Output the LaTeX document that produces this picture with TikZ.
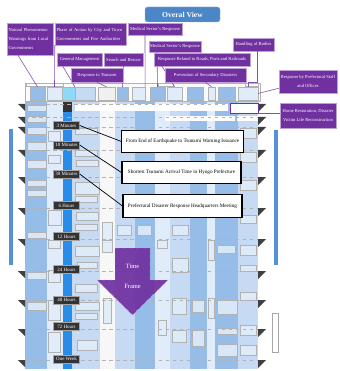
\documentclass[tikz,border=0pt]{standalone}
\usepackage{fontspec}
\setmainfont{Liberation Serif}
\usetikzlibrary{calc}
\definecolor{ovpurple}{RGB}{112,48,160}
\definecolor{ovblue}{RGB}{74,134,200}
\definecolor{barblue}{RGB}{40,140,232}
\definecolor{ovmid}{RGB}{150,188,232}
\definecolor{ovlight}{RGB}{198,219,243}
\definecolor{ovpale}{RGB}{224,236,249}
\definecolor{ovstrip}{RGB}{86,144,214}
\tikzset{
  ovlabel/.style={rectangle, fill=ovpurple, draw=ovpurple!45!white, line width=0.4pt,
                  text=white, inner sep=1pt, font=\fontsize{3.9}{7.6}\selectfont},
  ovtime/.style={rectangle, fill=black!80, draw=gray!70, line width=0.3pt, text=white,
                 inner sep=0.5pt, minimum width=0.78cm, minimum height=0.24cm,
                 font=\fontsize{4.2}{4.5}\selectfont},
  ovcall/.style={rectangle, fill=white, draw=black, line width=0.9pt,
                 minimum width=3.57cm, minimum height=0.68cm, font=\fontsize{4.4}{5}\selectfont},
  ovhead/.style={rectangle, draw=gray!60, line width=0.2pt, inner sep=0pt, minimum height=0.39cm},
  ovcell/.style={draw=gray!60, line width=0.2pt, fill=ovpale, fill opacity=0.9},
  ovlink/.style={ovpurple!85, line width=0.5pt},
  ovpoint/.style={black, line width=0.6pt},
}

\begin{document}
\begin{tikzpicture}[x=0.03cm, y=-0.03cm]
  \useasboundingbox (0,0) rectangle (339,371);
  % Quadro do cronograma
  \foreach \a/\b/\c in {25/47/ovmid, 47/63/ovpale, 63/72/barblue, 72/100/ovlight,
                        100/115/gray!6, 115/135/ovlight, 135/155/ovmid, 155/170/ovpale,
                        170/190/ovlight, 190/207/ovmid, 207/215/ovpale, 215/238/ovmid,
                        238/258/ovlight}
    \fill[\c] (\a,101) rectangle (\b,369);
  \fill[black!80] (63,100) rectangle (72,112);
  % Celulas de texto
  \fill[white] (75,104.5) rectangle (228,111.5);
  \fill[white] (165,116) rectangle (235,121);
  \fill[white] (237,116) rectangle (258,121);
  \foreach \x/\y/\w/\h in {27/105/19/6, 27/116/19/6, 27/127/19/7, 27/142/19/8, 27/160/19/8,
                           27/180/19/6, 27/190/19/6, 27/232/19/6, 27/272/19/7, 27/302/19/8,
                           48/131/12/10, 48/155/12/8, 48/210/13/15, 48/240/12/8, 48/270/12/12,
                           48/300/12/20, 48/332/12/20,
                           75/128/22/6, 75/150/22/6, 76/160/22/6, 75/182/24/12, 75/196/22/6,
                           76/212/22/8, 75/224/22/6, 75/246/24/10, 77/262/20/6, 75/284/22/8,
                           75/302/24/8, 75/313/22/6, 77/340/20/10,
                           102/222/10/20, 102/240/10/12, 103/298/8/25, 117/225/14/10,
                           137/225/14/10, 157/240/10/8, 158/320/8/15,
                           172/225/16/10, 172/258/16/14, 172/298/14/16, 172/330/14/12,
                           192/300/12/12, 192/330/12/16, 208/240/6/20, 208/298/6/20,
                           217/245/18/8, 217/300/20/14, 217/328/20/6, 217/344/20/12,
                           240/128/16/10, 240/152/16/10, 240/180/16/10, 240/215/16/8,
                           240/245/16/10, 240/265/16/6, 240/292/16/8, 240/325/16/10,
                           240/345/16/10}
    \draw[ovcell] (\x,\y) rectangle ++(\w,\h);
  % Linhas de tempo e marcadores
  \foreach \y in {104,117,127,150,177,208,239,271,300,329,360} {
    \draw[gray!60, dashed, line width=0.3pt] (18,\y) -- (262,\y);
    \fill[black!75] (18,\y) -- (25,\y) -- (25,\y+7) -- cycle;
    \fill[black!75] (258,\y) -- (266,\y) -- (258,\y+8) -- cycle;
  }
  % Faixas laterais
  \draw[white, fill=ovstrip, line width=0.4pt] (8,128) rectangle (13,265);
  \draw[white, fill=ovstrip, line width=0.4pt] (273,129) rectangle (278,265);
  \draw[gray!70, fill=white, line width=0.3pt] (272,313) rectangle (278,352);
  % Cabecalho
  \draw[gray!60, fill=gray!4, line width=0.3pt] (25,83) rectangle (260,101);
  \foreach \a/\b in {26/63, 158/173, 245/258}
    \draw[gray!60, fill=white, line width=0.2pt] (\a,83.5) rectangle (\b,86.5);
  \foreach \a/\b/\c [count=\i] in {30/45/ovmid, 47/62/ovpale, 62/75/cyan!45, 75/95/ovlight,
                                   98/115/gray!12, 117/128/ovmid, 132/145/ovpale,
                                   150/165/ovmid, 167/182/ovpale, 187/203/ovmid,
                                   208/215/ovpale, 218/235/ovmid, 238/258/ovpale}
    \node[ovhead, fill=\c, minimum width={(\b-\a)*0.03cm}] (h\i) at ({(\a+\b)/2},93.5) {};
  \node[draw=ovpurple, line width=0.6pt, fill=white, inner sep=0pt,
        minimum width=0.84cm, minimum height=0.3cm] (hl) at (244,108) {};
  % Marcos de tempo
  \node[ovtime] (t3) at (66.5,125.5) {3 Minutes};
  \node[ovtime] (t10) at (66.5,145) {10 Minutes};
  \node[ovtime] (t30) at (66.5,174) {30 Minutes};
  \node[ovtime] (t6h) at (66.5,205.5) {6 Hours};
  \node[ovtime] (t12h) at (66.5,236.5) {12 Hours};
  \node[ovtime] (t24h) at (66.5,269.5) {24 Hours};
  \node[ovtime] (t48h) at (66.5,300) {48 Hours};
  \node[ovtime] (t72h) at (66.5,326.5) {72 Hours};
  \node[ovtime] (tweek) at (66.5,359) {One Week};
  % Caixas de destaque
  \node[ovcall] (quake) at (182.5,141.5) {From End of Earthquake to Tsunami Warning Issuance};
  \node[ovcall] (arrival) at (181.5,172.5) {Shortest Tsunami Arrival Time in Hyogo Prefecture};
  \node[ovcall] (hq) at (182.5,206) {Prefectural Disaster Response Headquarters Meeting};
  \draw[ovpoint] (t3.east) -- (quake.west);
  \draw[ovpoint] (t10.east) -- (arrival.west);
  \draw[ovpoint] (t30.east) -- (hq.west);
  % Seta do periodo
  \draw[fill=ovpurple, fill opacity=0.92, draw=ovpurple!40!white, dashed, line width=0.4pt]
    (115,248) -- (150,248) -- (150,280) -- (168,280) -- (132.5,315) -- (97,280) -- (115,280) -- cycle;
  \node[text=white, align=center, font=\fontsize{5.5}{6}\selectfont] (tf) at (132.5,276)
    {Time\\[11pt]Frame};
  % Titulo
  \node[fill=ovblue, draw=ovblue!55!white, rounded corners=2pt, text=white,
        minimum width=2.25cm, minimum height=0.45cm, font=\fontsize{6.5}{7}\selectfont\bfseries]
        (ov) at (182.5,14.5) {Overal View};
  % Rotulos das areas
  \node[ovlabel, minimum width=1.38cm, minimum height=0.96cm, text width=1.28cm, align=left]
    (nat) at (30,39) {Natural Phenomenon\\Warnings from Local\\Governments};
  \draw[ovlink] ([xshift=-0.36cm]nat.south) -- (h1.north);
  \node[ovlabel, minimum width=2.13cm, minimum height=0.66cm, text width=2.03cm, align=left]
    (phase) at (90.5,34) {Phase of Action by City and Town\\Governments and Fire Authorities};
  \draw[ovlink] (phase.south west) -- (h2.north);
  \node[ovlabel, minimum width=1.62cm, minimum height=0.36cm] (med1) at (155,29) {Medical Sector's Response};
  \draw[ovlink] ([xshift=-0.3cm]med1.south) -- (h7.north east);
  \node[ovlabel, minimum width=1.56cm, minimum height=0.33cm] (med2) at (175,46.5) {Medical Sector's Response};
  \draw[ovlink] ([xshift=-0.54cm]med2.south) -- (h8.north);
  \node[ovlabel, minimum width=1.23cm, minimum height=0.39cm] (bodies) at (253.5,44.5) {Handling of Bodies};
  \draw[ovlink] ([xshift=0.1cm]bodies.south) |- ([yshift=0.15cm]h13.north) -- (h13.north);
  \node[ovlabel, minimum width=1.35cm, minimum height=0.39cm] (genm) at (79.5,59.5) {General Management};
  \draw[ovlink] ([xshift=-0.5cm]genm.south) -- (h4.north west);
  \node[ovlabel, minimum width=1.17cm, minimum height=0.39cm] (search) at (123.5,59.5) {Search and Rescue};
  \draw[ovlink] (search.south) -- (h6.north);
  \node[ovlabel, minimum width=2.88cm, minimum height=0.39cm] (roads) at (202,59.5)
    {Response Related to Roads, Ports and Railroads};
  \draw[ovlink] ([xshift=-1.2cm]roads.south) -- (h9.north);
  \node[ovlabel, minimum width=1.56cm, minimum height=0.42cm] (tsunami) at (97,75) {Response to Tsunami};
  \draw[ovlink] (tsunami.south) -- (h5.north);
  \node[ovlabel, minimum width=2.43cm, minimum height=0.42cm] (prevent) at (205.5,75)
    {Prevention of Secondary Disasters};
  \draw[ovlink] (prevent.south) -- (h11.north);
  \node[ovlabel, minimum width=1.74cm, minimum height=0.69cm, align=center] (pref) at (308,81.5)
    {Response by Prefectural Staff\\and Offices};
  \draw[ovlink] ([yshift=0.15cm]pref.south west) -- (h13.east);
  \node[ovlabel, minimum width=1.68cm, minimum height=0.75cm, align=center] (home) at (308,115.5)
    {Home Restoration, Disaster\\Victim Life Reconstruction};
  \draw[ovlink] (hl.south east) -- (hl.south east -| home.west);
\end{tikzpicture}
\end{document}
